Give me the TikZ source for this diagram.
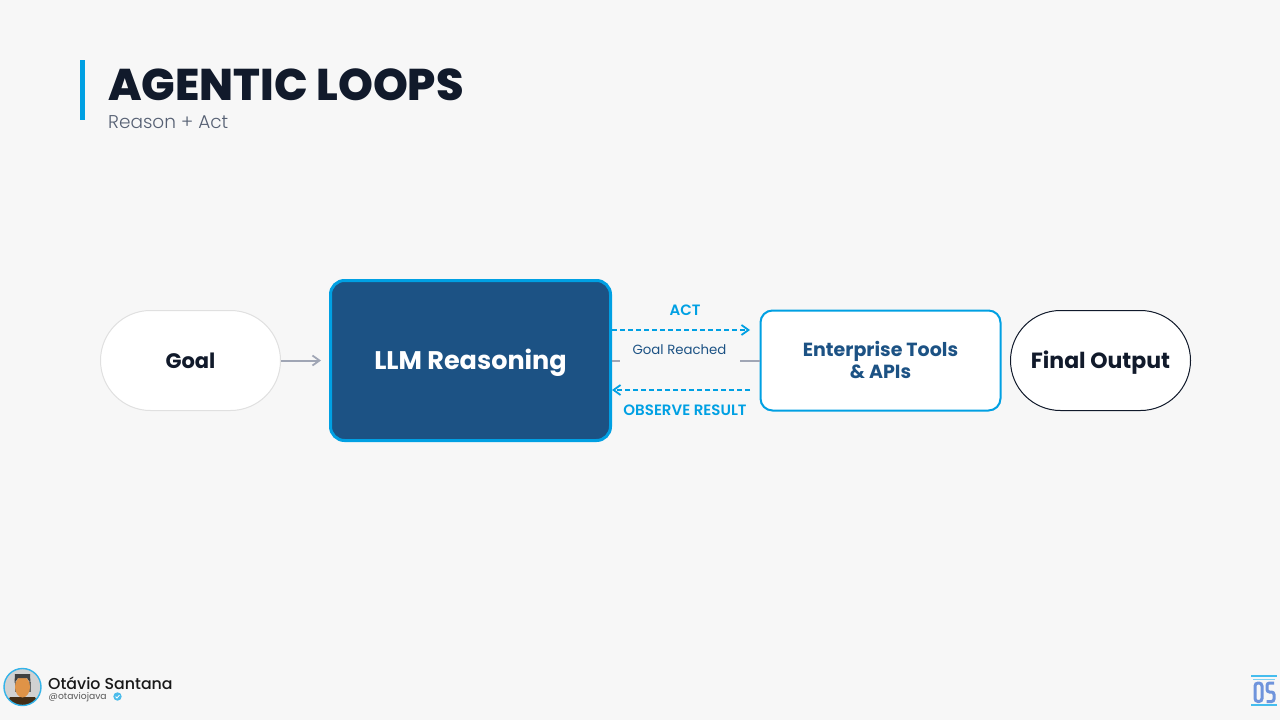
\documentclass[tikz,border=0pt]{standalone}
\usepackage{fontspec}
\setmainfont{Poppins}
\newfontfamily\heavyf{Poppins ExtraBold}
\newfontfamily\semif{Poppins SemiBold}
\newfontfamily\lightf{Poppins Light}
\newfontfamily\medf{Poppins Medium}
\usetikzlibrary{arrows.meta}
\definecolor{bg}{HTML}{F7F7F7}
\definecolor{ink}{HTML}{111A2B}
\definecolor{cyanb}{HTML}{00A0E3}
\definecolor{navy}{HTML}{1C5284}
\definecolor{subt}{HTML}{566073}
\definecolor{arrowg}{HTML}{A0A6B5}
\definecolor{logob}{HTML}{6F94DC}
\definecolor{logoc}{HTML}{45BDEE}
\tikzset{
  x=1pt,y=-1pt,
  pill/.style={draw=#1,fill=white,rounded corners=50pt,minimum width=180pt,minimum height=100pt,inner sep=0pt,line width=1pt,text=ink},
  loopact/.style={cyanb,line width=2pt,dash pattern=on 5pt off 3pt,-{Straight Barb[length=7pt,width=10pt,line width=1.8pt]}},
  looplabel/.style={text=cyanb,inner sep=0pt},
  flat/.style={text height=#1,text depth=0pt},
}
\begin{document}
\begin{tikzpicture}
\useasboundingbox (0,0) rectangle (1280,720);
\fill[bg] (0,0) rectangle (1280,720);
% header
\fill[cyanb] (80,60) rectangle (85,120);
\node[anchor=west,inner sep=0pt,text=ink,font=\fontsize{44.4}{50}\heavyf] (title) at (108,85) {AGENTIC LOOPS};
\node[anchor=west,inner sep=0pt,text=subt,font=\fontsize{18.5}{22}\lightf] (sub) at (108,122) {Reason + Act};
% nodes
\node[pill=black!12,flat=15pt,font=\fontsize{21}{24}\selectfont\bfseries] (goal) at (190.5,360.5) {Goal};
\node[draw=cyanb,fill=navy,rounded corners=14pt,minimum width=280pt,minimum height=160pt,line width=3pt,inner sep=0pt,text=white,flat=18pt,font=\fontsize{25.5}{30}\selectfont\bfseries] (llm) at (470.5,360.5) {LLM Reasoning};
\node[draw=cyanb,fill=white,rounded corners=12pt,minimum width=240pt,minimum height=100pt,line width=2pt,inner sep=0pt,text=navy,align=center,text depth=2pt,font=\fontsize{19}{22}\selectfont\bfseries] (tools) at (880.5,360.5) {Enterprise Tools\\\& APIs};
\node[pill=ink,flat=16pt,font=\fontsize{22}{26}\selectfont\bfseries] (final) at (1100.5,360.5) {Final Output};
% connectors
\draw[arrowg,line width=2pt,-{Straight Barb[length=7pt,width=10pt,line width=1.8pt]}] (goal.east) -- ([xshift=40pt]goal.east);
\draw[arrowg,line width=2pt] (tools.west) -- (llm.east);
\fill[bg] (620,352) rectangle (740,368);
\node[inner sep=0pt,text=navy,font=\fontsize{13.3}{16}\selectfont] (reached) at (679.5,349.5) {Goal Reached};
\coordinate (actend) at (750,330);
\coordinate (obsstart) at (750,390);
\draw[loopact] ([yshift=30.5pt]llm.east) -- (actend);
\draw[loopact] (obsstart) -- ([yshift=-29.5pt]llm.east);
\node[looplabel,font=\fontsize{15}{17}\semif] (act) at (685,310) {ACT};
\node[looplabel,font=\fontsize{15}{17}\semif] (obs) at (685,410) {OBSERVE RESULT};
% author
\begin{scope}
\clip (22.5,687) circle (18.5);
\fill[black!18] (0,665) rectangle (45,710);
\fill[black!65!brown] (5,707) -- (10,697) -- (35,697) -- (40,707) -- cycle;
\fill[black!60] (14.5,682) rectangle (30.5,692);
\fill[brown!60!orange!85!white] (22.5,687) ellipse (7.5 and 10.5);
\fill[black!75] (14.5,683) -- (15,674) -- (30,674) -- (30.5,683) -- (27,678) -- (18,678) -- cycle;
\end{scope}
\draw[cyanb!80,line width=1.4pt] (22.5,687) circle (18.5);
\node[anchor=west,inner sep=0pt,text=black!90,font=\fontsize{15.8}{18}\medf] (author) at (48,683) {Otávio Santana};
\node[anchor=west,inner sep=0pt,text=black!65,font=\fontsize{9.2}{11}\selectfont] (handle) at (48.5,697.5) {@otaviojava};
\fill[cyanb!70] (117.5,696.5) circle (4.2);
\draw[white,line width=.8pt] (115.6,696.6) -- (117,698) -- (119.5,695);
% logo
\fill[logoc] (1251,675) rectangle (1277,677);
\fill[logoc!70] (1253,678.5) rectangle (1275,680);
\fill[logoc] (1251,704) rectangle (1277,706);
\draw[logob,line width=3pt,rounded corners=3pt] (1255,683) rectangle (1262,701.5);
\draw[logob,line width=3pt,rounded corners=2.5pt] (1274,683) -- (1267,683) -- (1267,692) -- (1274,692) -- (1274,701.5) -- (1266.5,701.5);
\end{tikzpicture}
\end{document}
